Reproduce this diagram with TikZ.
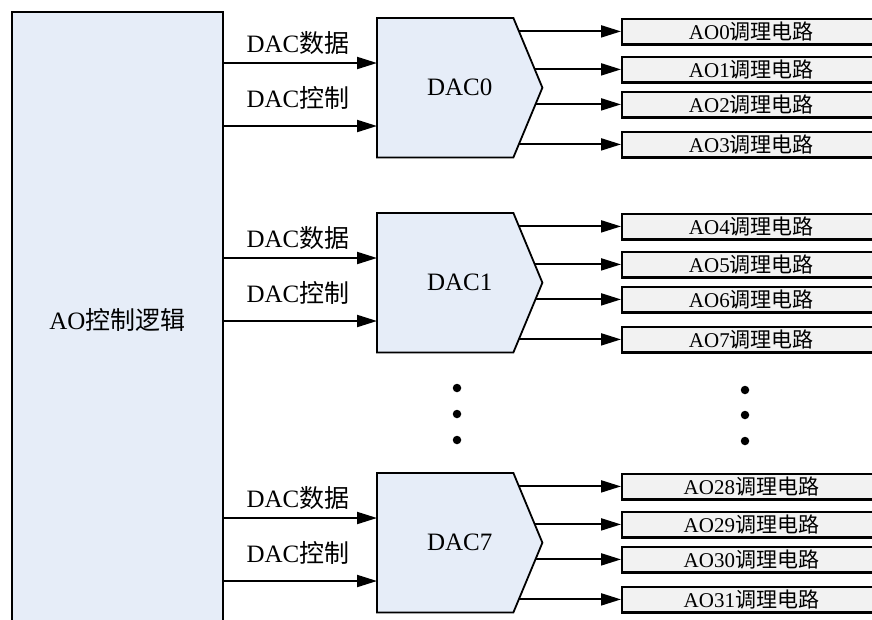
\documentclass[tikz,border=0pt]{standalone}
\usepackage{fontspec}
\setmainfont{Liberation Serif}
\newfontfamily\cjk{Noto Sans CJK SC}
\usetikzlibrary{arrows.meta,calc}
\pgfdeclarelayer{wires}
\pgfdeclarelayer{shapes}
\pgfsetlayers{wires,shapes,main}
\definecolor{dacblue}{RGB}{230,237,248}
\definecolor{aogray}{RGB}{242,242,242}
\tikzset{
  arr/.style={line width=2pt, -{Triangle[length=20pt,width=12pt]}},
  ctlbox/.style={draw, fill=dacblue, line width=1.8pt, anchor=north west, inner sep=0pt,
    minimum width=211, minimum height=617, font=\fontsize{25}{25}\selectfont},
  dacbox/.style={anchor=north west, inner sep=0pt, minimum width=165, minimum height=139,
    font=\fontsize{25}{25}\selectfont},
  dacpoly/.style={draw, fill=dacblue, line width=1.8pt, line join=miter},
  aobox/.style={draw, fill=aogray, line width=1.8pt, anchor=north west, inner sep=0pt,
    minimum width=259, minimum height=25, font=\fontsize{21}{21}\selectfont},
  lbl/.style={inner sep=0pt, font=\fontsize{25}{25}\selectfont},
  dotnode/.style={circle, fill=black, inner sep=0pt, minimum size=8.5}
}
\begin{document}
\begin{tikzpicture}[x=1pt,y=-1pt]
\useasboundingbox (0,0) rectangle (872,619);
\node[ctlbox] (ctl) at (11,11) {AO{\cjk 控制逻辑}};
\foreach \d/\T/\oa/\ob/\oc/\od in {0/18/0/1/2/3,1/213/4/5/6/7,7/473/28/29/30/31}{
  \node[dacbox] (d\d) at (377,\T) {DAC\d};
  \begin{pgfonlayer}{shapes}
    \draw[dacpoly] (d\d.north west) -- ($(d\d.north east)+(-29,0)$) -- (d\d.east)
      -- ($(d\d.south east)+(-29,0)$) -- (d\d.south west) -- cycle;
  \end{pgfonlayer}
  \coordinate (d\d in1) at ($(d\d.north west)+(0,45)$);
  \coordinate (d\d in2) at ($(d\d.north west)+(0,108)$);
  \draw[arr] (ctl.east |- d\d in1) -- (d\d in1);
  \draw[arr] (ctl.east |- d\d in2) -- (d\d in2);
  \node[lbl] (d\d data) at (298,\T+25) {DAC{\cjk 数据}};
  \node[lbl] (d\d ctrl) at (298,\T+80) {DAC{\cjk 控制}};
  \foreach \o/\dy in {\oa/0,\ob/38,\oc/73,\od/113}{
    \node[aobox] (ao\o) at (621,\T+\dy) {AO\o{\cjk 调理电路}};
    \draw[line width=1.2pt] ($(ao\o.south west)+(0,0.8)$) -- ($(ao\o.south east)+(0,0.8)$);
    \begin{pgfonlayer}{wires}
      \draw[arr] (d\d.center |- ao\o.west) -- (ao\o.west);
    \end{pgfonlayer}
  }
}
\node[dotnode] (vl1) at (457,388) {};
\node[dotnode] (vl2) at (457,414) {};
\node[dotnode] (vl3) at (457,440) {};
\node[dotnode] (vr1) at (745,390) {};
\node[dotnode] (vr2) at (745,415) {};
\node[dotnode] (vr3) at (745,441) {};
\end{tikzpicture}
\end{document}
